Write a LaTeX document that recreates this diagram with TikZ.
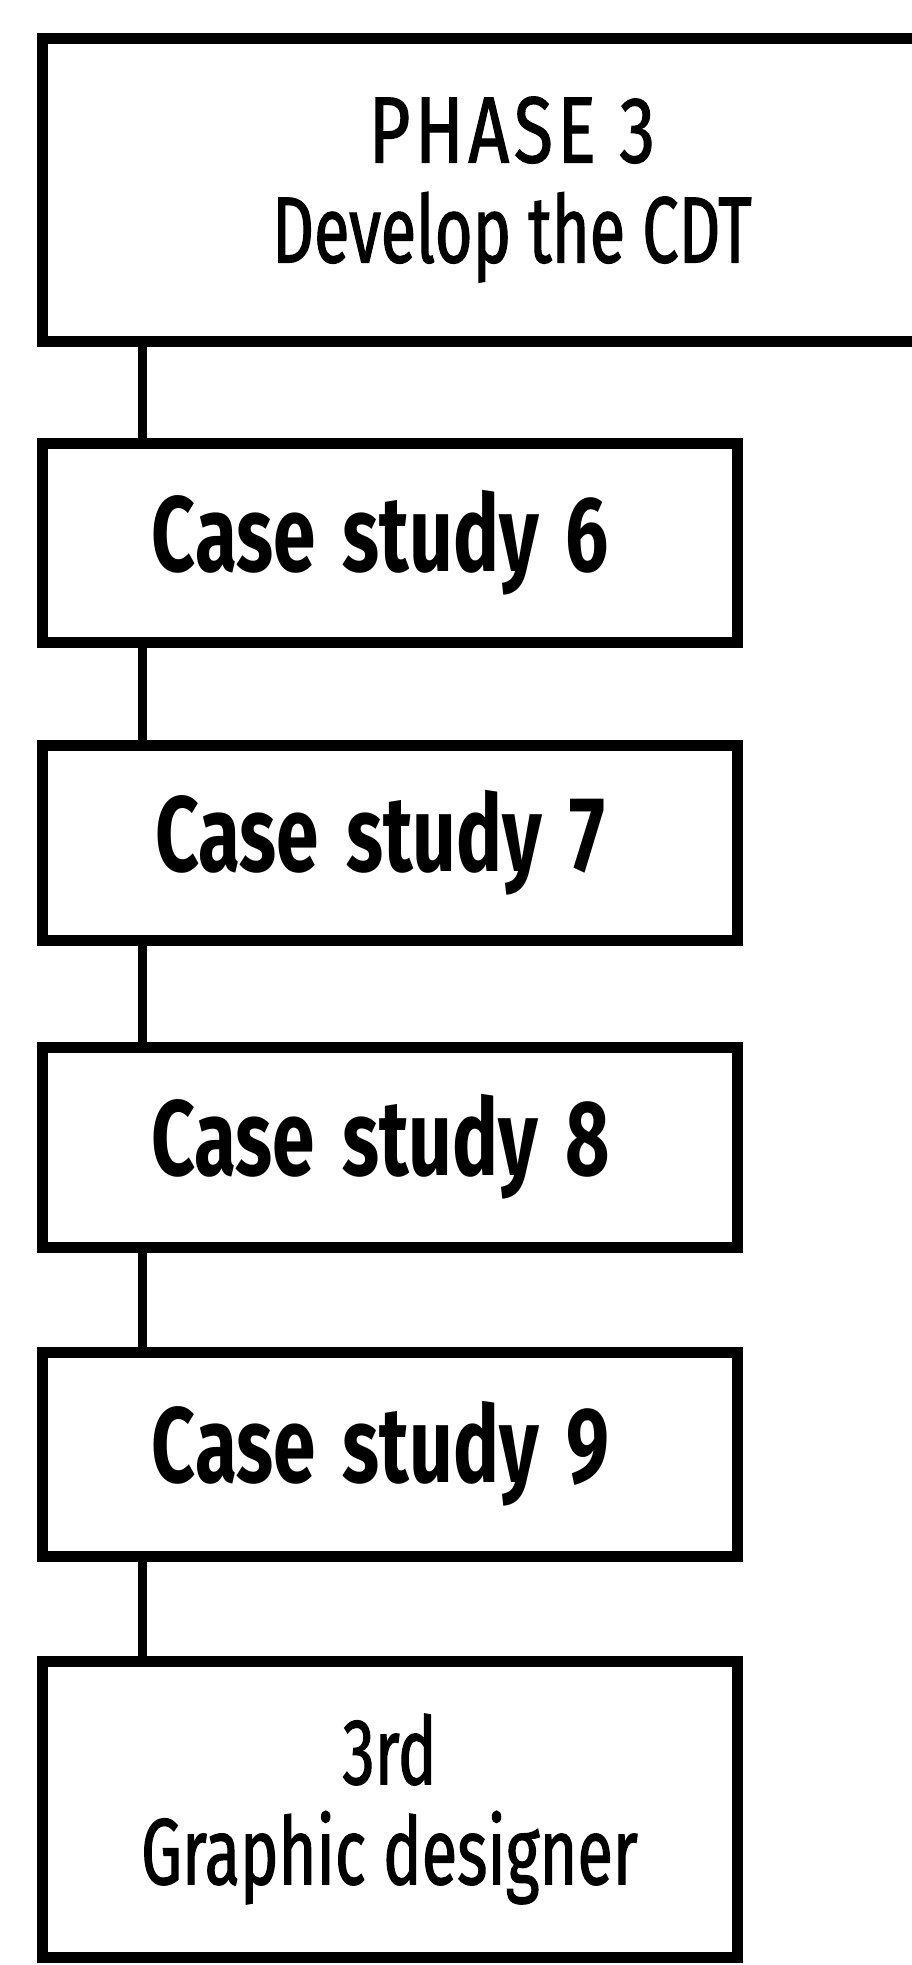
\documentclass[tikz,border=0pt]{standalone}
\usepackage{fontspec}
\setmainfont{Fira Sans}
% narrow faces for the box labels
\newfontfamily\labelfont{Fira Sans}[FakeStretch=0.69, FakeBold=1.2]
\newfontfamily\phasefont{Fira Sans}[FakeStretch=0.76, FakeBold=1.2, LetterSpace=5]
\newfontfamily\casefont{Fira Sans}[FakeStretch=0.716, WordSpace=1.5]
\newcommand{\shiftleft}{\hspace*{18pt}}
\begin{document}
\begin{tikzpicture}[x=1pt, y=-1pt,
  box/.style={draw=black, line width=11pt, inner sep=0pt, outer sep=0pt,
              minimum width=695pt, align=center},
  link/.style={draw=black, line width=9pt},
  headtext/.style={font={\labelfont\fontsize{94}{100}\selectfont}},
  casetext/.style={font={\casefont\bfseries\fontsize{107}{110}\selectfont}}]
\useasboundingbox (0,0) rectangle (912,1965);
\fill[white] (0,0) rectangle (912,1965);
\begin{scope}
\clip (0,0) rectangle (912,1965);
% phase header, running off the right edge
\node[box, minimum width=940pt, minimum height=303pt, headtext] (phase) at (512,189.5) {{\phasefont PHASE 3}\\Develop the CDT};
% chain of case studies
\node[box, minimum height=199pt, casetext] (cs6) at (389.5,542.5) {Case study 6\shiftleft};
\node[box, minimum height=195pt, casetext] (cs7) at (389.5,842.5) {Case study 7\shiftleft};
\node[box, minimum height=200pt, casetext] (cs8) at (389.5,1147) {Case study 8\shiftleft};
\node[box, minimum height=204pt, casetext] (cs9) at (389.5,1454) {Case study 9\shiftleft};
\node[box, minimum height=296pt, headtext] (designer) at (389.5,1809) {3rd\\Graphic designer};
% vertical spine linking the boxes
\coordinate (spine) at (142,0);
\draw[link] (phase.south -| spine) -- (cs6.north -| spine);
\draw[link] (cs6.south -| spine) -- (cs7.north -| spine);
\draw[link] (cs7.south -| spine) -- (cs8.north -| spine);
\draw[link] (cs8.south -| spine) -- (cs9.north -| spine);
\draw[link] (cs9.south -| spine) -- (designer.north -| spine);
\end{scope}
\end{tikzpicture}
\end{document}
